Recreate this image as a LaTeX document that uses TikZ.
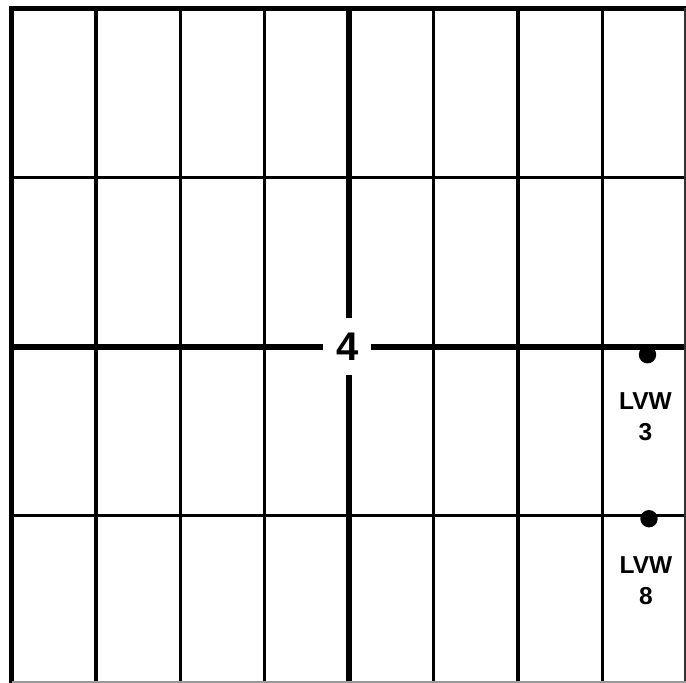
\documentclass[tikz,border=0pt]{standalone}
\usepackage{fontspec}
\setmainfont{Liberation Sans}
\usetikzlibrary{positioning}
\begin{document}
\begin{tikzpicture}[x=1pt,y=-1pt,line join=miter,
  thin line/.style={line width=3.3pt},
  bold line/.style={line width=6pt},
  marker/.style={circle,fill,inner sep=0pt,minimum size=17.4pt},
  vw label/.style={align=center,inner sep=0pt,font=\fontsize{24.5}{31.7}\selectfont\bfseries}]
  \useasboundingbox (0,0) rectangle (686,683);
  \foreach \x in {95.9,180.3,264.7,433.5,517.9,602.3}
    \draw[thin line] (\x,8) -- (\x,683);
  \foreach \y in {177.3,515.3}
    \draw[thin line] (11,\y) -- (686,\y);
  \draw[bold line] (349.1,8) -- (349.1,683);
  \draw[bold line] (11,346.5) -- (686,346.5);
  \draw[line width=5.4pt] (11.5,683) -- (11.5,8.3) -- (686,8.3);
  \draw[line width=1.5pt,black!80] (684.8,8.3) -- (684.8,683);
  \draw[line width=1.2pt,black!40] (11.5,682) -- (686,682);
  \node[fill=white,inner sep=0pt,minimum width=47.6pt,minimum height=57.3pt,
    font=\fontsize{40}{48}\selectfont\bfseries] (quad) at (347.2,346.3) {4};
  \node[marker] (dotA) at (647.5,354.7) {};
  \node[marker] (dotB) at (649,518.7) {};
  \node[vw label,below=28.5pt of dotA,xshift=-2pt] (lvwA) {LVW\\3};
  \node[vw label,below=28.5pt of dotB,xshift=-3pt] (lvwB) {LVW\\8};
\end{tikzpicture}
\end{document}
